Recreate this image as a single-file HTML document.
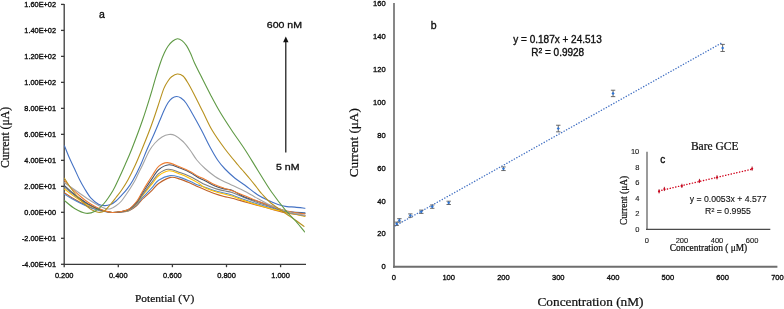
<!DOCTYPE html>
<html><head><meta charset="utf-8"><title>Figure</title>
<style>
html,body{margin:0;padding:0;background:#fff;}
body{width:784px;height:309px;overflow:hidden;font-family:"Liberation Sans",sans-serif;}
svg{display:block;will-change:transform;filter:blur(0.25px);}
svg text{stroke:#111;stroke-width:0.36px;stroke-linejoin:round;}
svg text.sf{stroke-width:0.24px;}
svg .lt text, svg text.lt{stroke-width:0.12px;}
</style></head><body>
<svg width="784" height="309" viewBox="0 0 784 309">
<g stroke="#3a3a3a" stroke-width="1.3" fill="none">
<line x1="64.2" y1="4.0" x2="64.2" y2="265.1"/>
<line x1="63.6" y1="264.4" x2="306" y2="264.4"/>
<line x1="61" y1="4.40" x2="64.2" y2="4.40"/>
<line x1="61" y1="30.39" x2="64.2" y2="30.39"/>
<line x1="61" y1="56.38" x2="64.2" y2="56.38"/>
<line x1="61" y1="82.37" x2="64.2" y2="82.37"/>
<line x1="61" y1="108.36" x2="64.2" y2="108.36"/>
<line x1="61" y1="134.35" x2="64.2" y2="134.35"/>
<line x1="61" y1="160.34" x2="64.2" y2="160.34"/>
<line x1="61" y1="186.33" x2="64.2" y2="186.33"/>
<line x1="61" y1="212.32" x2="64.2" y2="212.32"/>
<line x1="61" y1="238.31" x2="64.2" y2="238.31"/>
<line x1="61" y1="264.30" x2="64.2" y2="264.30"/>
<line x1="64.20" y1="264.4" x2="64.20" y2="267.2"/>
<line x1="118.30" y1="264.4" x2="118.30" y2="267.2"/>
<line x1="172.40" y1="264.4" x2="172.40" y2="267.2"/>
<line x1="226.50" y1="264.4" x2="226.50" y2="267.2"/>
<line x1="280.60" y1="264.4" x2="280.60" y2="267.2"/>
</g>
<g font-family='"Liberation Sans", sans-serif' font-size="7.35" fill="#111" text-anchor="end">
<text x="56" y="7.00">1.60E+02</text>
<text x="56" y="32.99">1.40E+02</text>
<text x="56" y="58.98">1.20E+02</text>
<text x="56" y="84.97">1.00E+02</text>
<text x="56" y="110.96">8.00E+01</text>
<text x="56" y="136.95">6.00E+01</text>
<text x="56" y="162.94">4.00E+01</text>
<text x="56" y="188.93">2.00E+01</text>
<text x="56" y="214.92">0.00E+00</text>
<text x="56" y="240.91">-2.00E+01</text>
<text x="56" y="266.90">-4.00E+01</text>
</g>
<g font-family='"Liberation Sans", sans-serif' font-size="7.45" fill="#111" text-anchor="middle">
<text x="64.20" y="278.1">0.200</text>
<text x="118.30" y="278.1">0.400</text>
<text x="172.40" y="278.1">0.600</text>
<text x="226.50" y="278.1">0.800</text>
<text x="280.60" y="278.1">1.000</text>
</g>
<g fill="none" stroke-width="1.1" stroke-linejoin="round" stroke-linecap="round">
<path stroke="#C0622A" d="M64.50,192.90 C65.75,193.72 69.42,196.23 72.00,197.80 C74.58,199.37 77.33,200.90 80.00,202.31 C82.67,203.71 85.33,205.08 88.00,206.23 C90.67,207.37 93.33,208.32 96.00,209.17 C98.67,210.02 101.33,210.77 104.00,211.32 C106.67,211.88 109.17,212.39 112.00,212.50 C114.83,212.61 118.17,212.31 121.00,212.01 C123.83,211.71 126.42,211.75 129.00,210.71 C131.58,209.67 134.42,207.55 136.50,205.78 C138.58,204.00 139.85,201.72 141.50,200.04 C143.15,198.36 144.57,197.37 146.40,195.67 C148.23,193.97 150.47,191.86 152.50,189.84 C154.53,187.81 155.58,185.57 158.60,183.50 C161.62,181.43 167.03,178.13 170.60,177.40 C174.17,176.67 176.77,178.17 180.00,179.10 C183.23,180.03 187.00,181.72 190.00,183.00 C193.00,184.28 195.50,185.67 198.00,186.80 C200.50,187.93 202.17,188.63 205.00,189.80 C207.83,190.97 211.83,192.68 215.00,193.80 C218.17,194.92 221.17,195.77 224.00,196.50 C226.83,197.23 228.67,197.35 232.00,198.20 C235.33,199.05 240.00,200.47 244.00,201.60 C248.00,202.73 251.67,203.80 256.00,205.00 C260.33,206.20 264.83,207.47 270.00,208.80 C275.17,210.13 281.17,211.88 287.00,213.00 C292.83,214.12 302.00,215.08 305.00,215.50"/>
<path stroke="#4F86CC" d="M64.50,194.30 C65.75,195.06 69.42,197.39 72.00,198.85 C74.58,200.31 77.33,201.73 80.00,203.04 C82.67,204.34 85.33,205.61 88.00,206.68 C90.67,207.74 93.33,208.62 96.00,209.41 C98.67,210.19 101.33,210.89 104.00,211.41 C106.67,211.92 109.17,212.42 112.00,212.50 C114.83,212.58 118.17,212.27 121.00,211.91 C123.83,211.56 126.42,211.54 129.00,210.38 C131.58,209.22 134.42,206.89 136.50,204.95 C138.58,203.01 139.85,200.61 141.50,198.72 C143.15,196.83 144.57,195.54 146.40,193.59 C148.23,191.65 150.47,189.26 152.50,187.03 C154.53,184.80 155.67,182.11 158.60,180.20 C161.53,178.30 166.53,176.07 170.10,175.60 C173.67,175.13 176.68,176.45 180.00,177.40 C183.32,178.35 187.00,180.02 190.00,181.30 C193.00,182.58 195.50,184.12 198.00,185.10 C200.50,186.08 202.17,186.25 205.00,187.20 C207.83,188.15 211.83,189.83 215.00,190.80 C218.17,191.77 221.17,192.30 224.00,193.00 C226.83,193.70 228.67,193.92 232.00,195.00 C235.33,196.08 240.00,198.08 244.00,199.50 C248.00,200.92 251.67,202.17 256.00,203.50 C260.33,204.83 264.83,206.17 270.00,207.50 C275.17,208.83 281.17,210.62 287.00,211.50 C292.83,212.38 302.00,212.58 305.00,212.80"/>
<path stroke="#FFC000" d="M64.50,189.00 C65.75,189.98 69.42,193.00 72.00,194.88 C74.58,196.75 77.33,198.60 80.00,200.28 C82.67,201.96 85.33,203.61 88.00,204.98 C90.67,206.35 93.33,207.49 96.00,208.50 C98.67,209.52 101.33,210.42 104.00,211.09 C106.67,211.76 109.17,212.38 112.00,212.50 C114.83,212.62 118.17,212.21 121.00,211.78 C123.83,211.36 126.42,211.26 129.00,209.94 C131.58,208.62 134.42,206.01 136.50,203.85 C138.58,201.69 139.85,199.13 141.50,196.96 C143.15,194.79 144.57,193.10 146.40,190.82 C148.23,188.54 150.47,185.79 152.50,183.29 C154.53,180.79 155.85,177.88 158.60,175.80 C161.35,173.72 165.43,171.08 169.00,170.80 C172.57,170.52 176.50,172.82 180.00,174.10 C183.50,175.38 187.00,177.03 190.00,178.50 C193.00,179.97 195.50,181.35 198.00,182.90 C200.50,184.45 202.17,186.37 205.00,187.80 C207.83,189.23 211.83,190.47 215.00,191.50 C218.17,192.53 221.17,193.25 224.00,194.00 C226.83,194.75 228.67,194.92 232.00,196.00 C235.33,197.08 240.00,199.08 244.00,200.50 C248.00,201.92 251.67,203.17 256.00,204.50 C260.33,205.83 264.83,207.17 270.00,208.50 C275.17,209.83 281.17,211.17 287.00,212.50 C292.83,213.83 302.00,215.83 305.00,216.50"/>
<path stroke="#7F7F7F" d="M64.50,187.00 C65.75,188.06 69.42,191.34 72.00,193.38 C74.58,195.41 77.33,197.41 80.00,199.24 C82.67,201.07 85.33,202.85 88.00,204.34 C90.67,205.83 93.33,207.06 96.00,208.16 C98.67,209.27 101.33,210.25 104.00,210.97 C106.67,211.69 109.17,212.38 112.00,212.50 C114.83,212.62 118.17,212.18 121.00,211.72 C123.83,211.25 126.42,211.12 129.00,209.72 C131.58,208.32 134.42,205.57 136.50,203.30 C138.58,201.03 139.85,198.39 141.50,196.08 C143.15,193.77 144.57,191.88 146.40,189.44 C148.23,186.99 150.47,184.06 152.50,181.42 C154.53,178.78 155.95,175.64 158.60,173.60 C161.25,171.56 164.83,169.38 168.40,169.20 C171.97,169.02 176.40,171.28 180.00,172.50 C183.60,173.72 187.00,175.13 190.00,176.50 C193.00,177.87 195.50,179.35 198.00,180.70 C200.50,182.05 202.17,183.30 205.00,184.60 C207.83,185.90 211.83,187.47 215.00,188.50 C218.17,189.53 221.17,190.13 224.00,190.80 C226.83,191.47 228.67,191.38 232.00,192.50 C235.33,193.62 240.00,195.92 244.00,197.50 C248.00,199.08 251.67,200.50 256.00,202.00 C260.33,203.50 264.83,204.83 270.00,206.50 C275.17,208.17 281.17,210.42 287.00,212.00 C292.83,213.58 302.00,215.33 305.00,216.00"/>
<path stroke="#44546A" d="M64.50,185.60 C65.75,186.72 69.42,190.17 72.00,192.32 C74.58,194.48 77.33,196.58 80.00,198.51 C82.67,200.44 85.33,202.32 88.00,203.89 C90.67,205.46 93.33,206.76 96.00,207.93 C98.67,209.09 101.33,210.12 104.00,210.89 C106.67,211.65 109.17,212.38 112.00,212.50 C114.83,212.62 118.17,212.13 121.00,211.60 C123.83,211.07 126.42,210.88 129.00,209.33 C131.58,207.78 134.42,204.79 136.50,202.32 C138.58,199.86 139.85,197.08 141.50,194.52 C143.15,191.96 144.57,189.71 146.40,186.98 C148.23,184.24 150.47,180.98 152.50,178.11 C154.53,175.23 155.85,171.92 158.60,169.70 C161.35,167.48 165.43,165.07 169.00,164.80 C172.57,164.53 176.50,166.82 180.00,168.10 C183.50,169.38 187.00,170.95 190.00,172.50 C193.00,174.05 195.50,176.03 198.00,177.40 C200.50,178.77 202.17,179.27 205.00,180.70 C207.83,182.13 211.83,184.63 215.00,186.00 C218.17,187.37 221.17,188.18 224.00,188.90 C226.83,189.62 228.67,189.00 232.00,190.30 C235.33,191.60 240.00,194.95 244.00,196.70 C248.00,198.45 251.67,199.33 256.00,200.80 C260.33,202.27 264.83,203.72 270.00,205.50 C275.17,207.28 281.17,210.20 287.00,211.50 C292.83,212.80 302.00,213.00 305.00,213.30"/>
<path stroke="#ED7D31" d="M64.50,180.70 C65.75,182.02 69.42,186.11 72.00,188.65 C74.58,191.19 77.33,193.69 80.00,195.96 C82.67,198.24 85.33,200.47 88.00,202.32 C90.67,204.18 93.33,205.72 96.00,207.09 C98.67,208.47 101.33,209.69 104.00,210.59 C106.67,211.49 109.17,212.35 112.00,212.50 C114.83,212.65 118.17,212.08 121.00,211.50 C123.83,210.92 126.42,210.67 129.00,209.00 C131.58,207.33 134.42,204.13 136.50,201.50 C138.58,198.87 139.85,195.97 141.50,193.20 C143.15,190.43 144.57,187.88 146.40,184.90 C148.23,181.92 150.47,178.38 152.50,175.30 C154.53,172.22 156.13,168.52 158.60,166.40 C161.07,164.28 163.73,162.50 167.30,162.60 C170.87,162.70 176.22,165.52 180.00,167.00 C183.78,168.48 187.00,169.95 190.00,171.50 C193.00,173.05 195.50,174.98 198.00,176.30 C200.50,177.62 202.17,177.98 205.00,179.40 C207.83,180.82 211.83,183.33 215.00,184.80 C218.17,186.27 221.17,187.20 224.00,188.20 C226.83,189.20 228.67,189.58 232.00,190.80 C235.33,192.02 240.00,193.88 244.00,195.50 C248.00,197.12 251.67,198.83 256.00,200.50 C260.33,202.17 264.83,203.75 270.00,205.50 C275.17,207.25 281.17,209.58 287.00,211.00 C292.83,212.42 302.00,213.50 305.00,214.00"/>
<path stroke="#A5A5A5" d="M64.50,182.70 C67.08,184.50 75.58,190.45 80.00,193.50 C84.42,196.55 87.67,198.88 91.00,201.00 C94.33,203.12 97.58,204.93 100.00,206.20 C102.42,207.47 103.75,208.17 105.50,208.60 C107.25,209.03 108.75,209.27 110.50,208.80 C112.25,208.33 114.17,207.10 116.00,205.80 C117.83,204.50 119.75,202.97 121.50,201.00 C123.25,199.03 125.00,196.17 126.50,194.00 C128.00,191.83 129.08,190.25 130.50,188.00 C131.92,185.75 133.65,183.00 135.00,180.50 C136.35,178.00 137.33,175.58 138.60,173.00 C139.87,170.42 140.83,168.67 142.60,165.00 C144.37,161.33 147.13,154.67 149.20,151.00 C151.27,147.33 152.87,145.33 155.00,143.00 C157.13,140.67 159.67,138.42 162.00,137.00 C164.33,135.58 166.83,134.75 169.00,134.50 C171.17,134.25 172.67,134.33 175.00,135.50 C177.33,136.67 180.50,139.08 183.00,141.50 C185.50,143.92 187.70,146.92 190.00,150.00 C192.30,153.08 194.30,156.92 196.80,160.00 C199.30,163.08 201.97,165.75 205.00,168.50 C208.03,171.25 212.17,174.50 215.00,176.50 C217.83,178.50 219.50,179.20 222.00,180.50 C224.50,181.80 227.50,183.13 230.00,184.30 C232.50,185.47 234.63,186.38 237.00,187.50 C239.37,188.62 241.78,189.75 244.20,191.00 C246.62,192.25 249.08,193.67 251.50,195.00 C253.92,196.33 255.28,197.17 258.70,199.00 C262.12,200.83 267.28,203.92 272.00,206.00 C276.72,208.08 281.50,209.92 287.00,211.50 C292.50,213.08 302.00,214.83 305.00,215.50"/>
<path stroke="#4472C4" d="M64.50,145.90 C65.25,147.75 67.35,153.23 69.00,157.00 C70.65,160.77 72.65,164.75 74.40,168.50 C76.15,172.25 77.82,176.17 79.50,179.50 C81.18,182.83 82.58,185.38 84.50,188.50 C86.42,191.62 88.67,195.58 91.00,198.20 C93.33,200.82 96.25,202.97 98.50,204.20 C100.75,205.43 102.50,205.53 104.50,205.60 C106.50,205.67 108.58,205.37 110.50,204.60 C112.42,203.83 114.13,202.57 116.00,201.00 C117.87,199.43 119.87,197.17 121.70,195.20 C123.53,193.23 125.15,191.65 127.00,189.20 C128.85,186.75 130.53,184.53 132.80,180.50 C135.07,176.47 138.27,170.08 140.60,165.00 C142.93,159.92 144.70,154.83 146.80,150.00 C148.90,145.17 151.00,141.00 153.20,136.00 C155.40,131.00 158.20,124.25 160.00,120.00 C161.80,115.75 162.67,113.37 164.00,110.50 C165.33,107.63 166.67,104.85 168.00,102.80 C169.33,100.75 170.58,99.25 172.00,98.20 C173.42,97.15 175.00,96.53 176.50,96.50 C178.00,96.47 179.42,96.92 181.00,98.00 C182.58,99.08 184.17,100.50 186.00,103.00 C187.83,105.50 189.43,108.50 192.00,113.00 C194.57,117.50 198.40,124.33 201.40,130.00 C204.40,135.67 207.30,142.00 210.00,147.00 C212.70,152.00 215.10,156.33 217.60,160.00 C220.10,163.67 222.10,165.97 225.00,169.00 C227.90,172.03 231.67,175.48 235.00,178.20 C238.33,180.92 241.25,182.53 245.00,185.30 C248.75,188.07 253.67,192.30 257.50,194.80 C261.33,197.30 264.58,198.68 268.00,200.30 C271.42,201.92 274.83,203.45 278.00,204.50 C281.17,205.55 284.17,206.17 287.00,206.60 C289.83,207.03 292.00,206.82 295.00,207.10 C298.00,207.38 303.33,208.10 305.00,208.30"/>
<path stroke="#B8911E" d="M64.50,178.30 C65.42,179.75 67.98,184.13 70.00,187.00 C72.02,189.87 74.28,192.78 76.60,195.50 C78.92,198.22 81.47,200.97 83.90,203.30 C86.33,205.63 88.85,208.02 91.20,209.50 C93.55,210.98 95.87,211.90 98.00,212.20 C100.13,212.50 102.00,212.50 104.00,211.30 C106.00,210.10 108.00,207.30 110.00,205.00 C112.00,202.70 114.05,200.00 116.00,197.50 C117.95,195.00 119.72,192.92 121.70,190.00 C123.68,187.08 125.63,184.17 127.90,180.00 C130.17,175.83 132.87,170.33 135.30,165.00 C137.73,159.67 140.27,153.42 142.50,148.00 C144.73,142.58 146.90,137.17 148.70,132.50 C150.50,127.83 151.75,124.42 153.30,120.00 C154.85,115.58 156.25,111.23 158.00,106.00 C159.75,100.77 162.13,92.77 163.80,88.60 C165.47,84.43 166.70,82.97 168.00,81.00 C169.30,79.03 170.05,77.97 171.60,76.80 C173.15,75.63 175.40,74.13 177.30,74.00 C179.20,73.87 181.22,74.50 183.00,76.00 C184.78,77.50 186.12,79.88 188.00,83.00 C189.88,86.12 191.80,89.87 194.30,94.70 C196.80,99.53 200.05,106.12 203.00,112.00 C205.95,117.88 208.33,123.83 212.00,130.00 C215.67,136.17 220.67,143.17 225.00,149.00 C229.33,154.83 235.12,161.50 238.00,165.00 C240.88,168.50 240.30,167.67 242.30,170.00 C244.30,172.33 247.58,176.08 250.00,179.00 C252.42,181.92 254.80,185.00 256.80,187.50 C258.80,190.00 259.57,191.33 262.00,194.00 C264.43,196.67 267.40,200.22 271.40,203.50 C275.40,206.78 281.90,210.87 286.00,213.70 C290.10,216.53 293.00,218.38 296.00,220.50 C299.00,222.62 302.67,225.42 304.00,226.40"/>
<path stroke="#5F9A45" d="M64.50,200.60 C66.25,201.97 71.42,206.68 75.00,208.80 C78.58,210.92 82.67,212.90 86.00,213.30 C89.33,213.70 92.00,212.83 95.00,211.20 C98.00,209.57 101.00,206.95 104.00,203.50 C107.00,200.05 110.63,194.42 113.00,190.50 C115.37,186.58 116.20,184.25 118.20,180.00 C120.20,175.75 122.70,170.25 125.00,165.00 C127.30,159.75 129.07,156.00 132.00,148.50 C134.93,141.00 139.50,128.92 142.60,120.00 C145.70,111.08 148.43,102.03 150.60,95.00 C152.77,87.97 153.93,83.27 155.60,77.80 C157.27,72.33 159.12,66.40 160.60,62.20 C162.08,58.00 163.27,55.27 164.50,52.60 C165.73,49.93 166.67,48.10 168.00,46.20 C169.33,44.30 170.93,42.45 172.50,41.20 C174.07,39.95 175.82,38.80 177.40,38.70 C178.98,38.60 180.48,39.45 182.00,40.60 C183.52,41.75 185.08,43.50 186.50,45.60 C187.92,47.70 189.20,50.40 190.50,53.20 C191.80,56.00 192.38,58.27 194.30,62.40 C196.22,66.53 199.30,72.62 202.00,78.00 C204.70,83.38 207.50,89.03 210.50,94.70 C213.50,100.37 216.50,106.12 220.00,112.00 C223.50,117.88 227.30,123.67 231.50,130.00 C235.70,136.33 240.85,143.33 245.20,150.00 C249.55,156.67 253.23,163.03 257.60,170.00 C261.97,176.97 266.67,185.00 271.40,191.80 C276.13,198.60 281.90,205.88 286.00,210.80 C290.10,215.72 292.92,217.80 296.00,221.30 C299.08,224.80 303.08,230.05 304.50,231.80"/>
</g>
<text x="99" y="17.6" font-family='"Liberation Sans", sans-serif' font-size="10.5" fill="#111">a</text>
<text transform="translate(284.4,28.1) scale(1,0.87)" font-family='"Liberation Sans", sans-serif' font-size="10.55" fill="#111" text-anchor="middle">600 nM</text>
<line x1="285.8" y1="41" x2="285.8" y2="152.6" stroke="#111" stroke-width="1.2"/>
<polygon points="285.8,36.4 283.1,42.2 288.5,42.2" fill="#111"/>
<text transform="translate(287.8,170) scale(1,0.88)" font-family='"Liberation Sans", sans-serif' font-size="10.6" fill="#111" text-anchor="middle">5 nM</text>
<text transform="translate(9.2,137.5) rotate(-90)" class="sf" font-family='"Liberation Serif", serif' font-size="11.7" fill="#111" text-anchor="middle">Current (&#956;A)</text>
<text x="164.6" y="301.9" class="sf" font-family='"Liberation Serif", serif' font-size="11.4" fill="#111" text-anchor="middle">Potential (V)</text>
<line x1="394" y1="2.9" x2="394" y2="267.8" stroke="#878787" stroke-width="2"/>
<line x1="393" y1="266.8" x2="777.4" y2="266.8" stroke="#6e6e6e" stroke-width="2"/>
<g font-family='"Liberation Sans", sans-serif' font-size="7.55" fill="#111" text-anchor="end">
<text x="385.6" y="269.45">0</text>
<text x="385.6" y="236.49">20</text>
<text x="385.6" y="203.53">40</text>
<text x="385.6" y="170.57">60</text>
<text x="385.6" y="137.61">80</text>
<text x="385.6" y="104.65">100</text>
<text x="385.6" y="71.69">120</text>
<text x="385.6" y="38.73">140</text>
<text x="385.6" y="5.77">160</text>
</g>
<g font-family='"Liberation Sans", sans-serif' font-size="7.55" fill="#111" text-anchor="middle">
<text x="393.90" y="280.25">0</text>
<text x="448.69" y="280.25">100</text>
<text x="503.48" y="280.25">200</text>
<text x="558.27" y="280.25">300</text>
<text x="613.06" y="280.25">400</text>
<text x="667.85" y="280.25">500</text>
<text x="722.64" y="280.25">600</text>
<text x="777.43" y="280.25">700</text>
</g>
<line x1="395.00" y1="225.99" x2="722.64" y2="42.40" stroke="#4472C4" stroke-width="1.4" stroke-dasharray="0.15 2.7" stroke-linecap="round"/>
<g>
<g stroke="#5a5a5a" stroke-width="0.9"><line x1="396.64" y1="222.14" x2="396.64" y2="225.44"/><line x1="394.44" y1="222.14" x2="398.84" y2="222.14"/><line x1="394.44" y1="225.44" x2="398.84" y2="225.44"/></g>
<rect x="395.54" y="222.69" width="2.2" height="2.2" fill="#2E75D6" transform="rotate(45 396.64 223.79)"/>
<g stroke="#5a5a5a" stroke-width="0.9"><line x1="399.38" y1="218.68" x2="399.38" y2="221.97"/><line x1="397.18" y1="218.68" x2="401.58" y2="218.68"/><line x1="397.18" y1="221.97" x2="401.58" y2="221.97"/></g>
<rect x="398.28" y="219.23" width="2.2" height="2.2" fill="#2E75D6" transform="rotate(45 399.38 220.33)"/>
<g stroke="#5a5a5a" stroke-width="0.9"><line x1="410.34" y1="213.90" x2="410.34" y2="217.20"/><line x1="408.14" y1="213.90" x2="412.54" y2="213.90"/><line x1="408.14" y1="217.20" x2="412.54" y2="217.20"/></g>
<rect x="409.24" y="214.45" width="2.2" height="2.2" fill="#2E75D6" transform="rotate(45 410.34 215.55)"/>
<g stroke="#5a5a5a" stroke-width="0.9"><line x1="421.29" y1="210.11" x2="421.29" y2="213.40"/><line x1="419.09" y1="210.11" x2="423.49" y2="210.11"/><line x1="419.09" y1="213.40" x2="423.49" y2="213.40"/></g>
<rect x="420.19" y="210.66" width="2.2" height="2.2" fill="#2E75D6" transform="rotate(45 421.29 211.76)"/>
<g stroke="#5a5a5a" stroke-width="0.9"><line x1="432.25" y1="205.00" x2="432.25" y2="208.30"/><line x1="430.05" y1="205.00" x2="434.45" y2="205.00"/><line x1="430.05" y1="208.30" x2="434.45" y2="208.30"/></g>
<rect x="431.15" y="205.55" width="2.2" height="2.2" fill="#2E75D6" transform="rotate(45 432.25 206.65)"/>
<g stroke="#5a5a5a" stroke-width="0.9"><line x1="448.69" y1="201.21" x2="448.69" y2="204.51"/><line x1="446.49" y1="201.21" x2="450.89" y2="201.21"/><line x1="446.49" y1="204.51" x2="450.89" y2="204.51"/></g>
<rect x="447.59" y="201.76" width="2.2" height="2.2" fill="#2E75D6" transform="rotate(45 448.69 202.86)"/>
<g stroke="#5a5a5a" stroke-width="0.9"><line x1="503.48" y1="166.93" x2="503.48" y2="170.56"/><line x1="501.28" y1="166.93" x2="505.68" y2="166.93"/><line x1="501.28" y1="170.56" x2="505.68" y2="170.56"/></g>
<rect x="502.38" y="167.64" width="2.2" height="2.2" fill="#2E75D6" transform="rotate(45 503.48 168.74)"/>
<g stroke="#5a5a5a" stroke-width="0.9"><line x1="558.27" y1="125.24" x2="558.27" y2="131.83"/><line x1="556.07" y1="125.24" x2="560.47" y2="125.24"/><line x1="556.07" y1="131.83" x2="560.47" y2="131.83"/></g>
<rect x="557.17" y="127.43" width="2.2" height="2.2" fill="#2E75D6" transform="rotate(45 558.27 128.53)"/>
<g stroke="#5a5a5a" stroke-width="0.9"><line x1="613.06" y1="90.22" x2="613.06" y2="96.64"/><line x1="610.86" y1="90.22" x2="615.26" y2="90.22"/><line x1="610.86" y1="96.64" x2="615.26" y2="96.64"/></g>
<rect x="611.96" y="92.33" width="2.2" height="2.2" fill="#2E75D6" transform="rotate(45 613.06 93.43)"/>
<g stroke="#5a5a5a" stroke-width="0.9"><line x1="722.64" y1="44.40" x2="722.64" y2="51.49"/><line x1="720.44" y1="44.40" x2="724.84" y2="44.40"/><line x1="720.44" y1="51.49" x2="724.84" y2="51.49"/></g>
<rect x="721.54" y="46.85" width="2.2" height="2.2" fill="#2E75D6" transform="rotate(45 722.64 47.95)"/>
</g>
<text x="430.7" y="29.1" font-family='"Liberation Sans", sans-serif' font-size="10.5" fill="#111">b</text>
<text x="557.5" y="43.2" font-family='"Liberation Sans", sans-serif' font-size="10" fill="#111" text-anchor="middle">y = 0.187x + 24.513</text>
<text x="557.7" y="55.6" font-family='"Liberation Sans", sans-serif' font-size="10" fill="#111" text-anchor="middle">R<tspan font-size="6.8" dy="-3.0">2</tspan><tspan dy="3.0"> = 0.9928</tspan></text>
<text transform="translate(357.6,142.7) rotate(-90)" class="sf" font-family='"Liberation Serif", serif' font-size="13.2" fill="#111" text-anchor="middle">Current (&#956;A)</text>
<text x="590.5" y="306.4" class="sf" font-family='"Liberation Serif", serif' font-size="13.3" fill="#111" text-anchor="middle">Concentration (nM)</text>
<line x1="647" y1="151.7" x2="647" y2="230" stroke="#8a8a8a" stroke-width="1.7"/>
<line x1="646" y1="229.3" x2="770.3" y2="229.3" stroke="#4a4a4a" stroke-width="1.3"/>
<g class="lt" font-family='"Liberation Sans", sans-serif' font-size="7.5" fill="#1a1a1a" text-anchor="end">
<text x="639.3" y="232.00">0</text>
<text x="639.3" y="216.46">2</text>
<text x="639.3" y="200.92">4</text>
<text x="639.3" y="185.38">6</text>
<text x="639.3" y="169.84">8</text>
<text x="639.3" y="154.30">10</text>
</g>
<g class="lt" font-family='"Liberation Sans", sans-serif' font-size="7.5" fill="#1a1a1a" text-anchor="middle">
<text x="646.80" y="242.90">0</text>
<text x="681.90" y="242.90">200</text>
<text x="717.00" y="242.90">400</text>
<text x="752.10" y="242.90">600</text>
</g>
<line x1="659.08" y1="190.95" x2="752.10" y2="169.13" stroke="#D0021B" stroke-width="1.4" stroke-dasharray="0.2 2.65" stroke-linecap="round"/>
<line x1="659.08" y1="189.20" x2="659.08" y2="193.40" stroke="#A01020" stroke-width="0.9"/>
<rect x="658.18" y="190.50" width="1.8" height="1.8" fill="#D0021B" transform="rotate(45 659.08 191.40)"/>
<line x1="664.35" y1="186.87" x2="664.35" y2="191.07" stroke="#A01020" stroke-width="0.9"/>
<rect x="663.45" y="188.17" width="1.8" height="1.8" fill="#D0021B" transform="rotate(45 664.35 189.07)"/>
<line x1="681.90" y1="183.77" x2="681.90" y2="187.97" stroke="#A01020" stroke-width="0.9"/>
<rect x="681.00" y="185.07" width="1.8" height="1.8" fill="#D0021B" transform="rotate(45 681.90 185.97)"/>
<line x1="699.45" y1="178.87" x2="699.45" y2="183.07" stroke="#A01020" stroke-width="0.9"/>
<rect x="698.55" y="180.17" width="1.8" height="1.8" fill="#D0021B" transform="rotate(45 699.45 181.07)"/>
<line x1="717.00" y1="175.22" x2="717.00" y2="179.42" stroke="#A01020" stroke-width="0.9"/>
<rect x="716.10" y="176.52" width="1.8" height="1.8" fill="#D0021B" transform="rotate(45 717.00 177.42)"/>
<line x1="752.10" y1="166.52" x2="752.10" y2="170.72" stroke="#A01020" stroke-width="0.9"/>
<rect x="751.20" y="167.82" width="1.8" height="1.8" fill="#D0021B" transform="rotate(45 752.10 168.72)"/>
<text x="714.7" y="149.7" class="sf" font-family='"Liberation Serif", serif' font-size="11.5" fill="#111" text-anchor="middle">Bare GCE</text>
<text x="660.3" y="162.7" font-family='"Liberation Sans", sans-serif' font-size="10" fill="#111">c</text>
<text x="728.1" y="202.4" class="lt" font-family='"Liberation Sans", sans-serif' font-size="8.7" fill="#111" text-anchor="middle">y = 0.0053x + 4.577</text>
<text x="727.9" y="214.2" class="lt" font-family='"Liberation Sans", sans-serif' font-size="8.7" fill="#111" text-anchor="middle">R<tspan font-size="5.9" dy="-2.6">2</tspan><tspan dy="2.6"> = 0.9955</tspan></text>
<text transform="translate(627,200.4) rotate(-90)" class="sf" font-family='"Liberation Serif", serif' font-size="9.4" fill="#111" text-anchor="middle">Current (&#956;A)</text>
<text x="708.5" y="251.3" class="sf" font-family='"Liberation Serif", serif' font-size="9.4" fill="#111" text-anchor="middle">Concentration ( &#956;M)</text>
</svg>
</body></html>
